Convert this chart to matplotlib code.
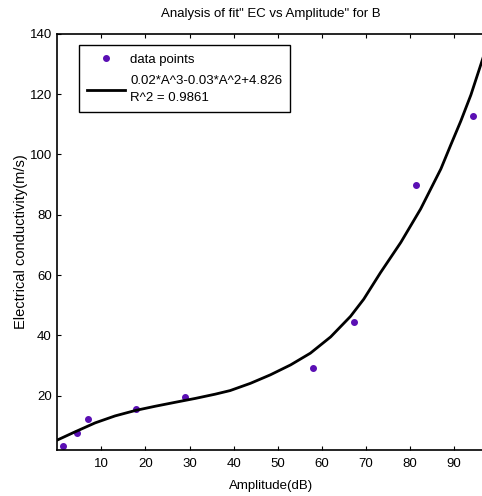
import matplotlib
matplotlib.use('Agg')
import matplotlib.pyplot as plt

plt.rcParams['font.family'] = ['Liberation Sans', 'DejaVu Sans']

# measured points
amp = [1.2, 4.4, 7.0, 17.9, 29.0, 58.0, 67.4, 81.3, 94.2]
ec = [3.2, 7.6, 12.2, 15.5, 19.6, 29.2, 44.3, 89.8, 112.6]

# fitted curve
fit_x = [0, 4.0, 8.6, 13.1, 17.7, 22.2, 26.7, 31.3, 35.8, 39.2, 43.8, 48.3, 52.9,
         57.4, 62.0, 66.5, 69.5, 73.3, 77.9, 82.4, 87.0, 89.2, 91.5, 93.8, 97]
fit_y = [5.3, 8.0, 11.0, 13.3, 15.1, 16.5, 17.8, 19.1, 20.5, 21.7, 24.1, 26.9, 30.2,
         34.1, 39.5, 46.3, 52.0, 60.8, 70.8, 81.9, 95.2, 103, 111, 119.7, 134]

fig = plt.figure(figsize=(4.82, 4.96), dpi=100)
ax = fig.add_axes([57.3 / 482, 1 - 450 / 496, (485 - 57.3) / 482, (450 - 33.7) / 496])

ax.plot(amp, ec, 'o', color='#5a0fb4', markersize=4, label='data points')
ax.plot(fit_x, fit_y, '-', color='black', linewidth=2,
        label='0.02*A^3-0.03*A^2+4.826\nR^2 = 0.9861')

ax.set_xlim(0, 97)
ax.set_ylim(2, 140)
ax.set_xticks([10, 20, 30, 40, 50, 60, 70, 80, 90])
ax.set_yticks([20, 40, 60, 80, 100, 120, 140])
ax.tick_params(direction='in', length=3, width=0.8, top=True, labelsize=9.5)
ax.tick_params(axis='x', pad=6)
ax.tick_params(axis='y', pad=4)
for s in ax.spines.values():
    s.set_linewidth(1.2)

ax.set_title('Analysis of fit" EC vs Amplitude" for B', fontsize=9.5, pad=12)
ax.set_xlabel('Amplitude(dB)', fontsize=9.5, labelpad=7)
ax.set_ylabel('Electrical conductivity(m/s)', fontsize=10.5, labelpad=1)

leg = ax.legend(loc='upper left', bbox_to_anchor=(0.05, 0.972), fontsize=9.5,
                fancybox=False, edgecolor='black', framealpha=1,
                handlelength=2.9, handletextpad=0.4, borderaxespad=0,
                borderpad=0.6, labelspacing=0.75)
leg.get_frame().set_linewidth(1)
for t in leg.get_texts():
    t.set_linespacing(1.55)

fig.savefig('out.png', dpi=100)
